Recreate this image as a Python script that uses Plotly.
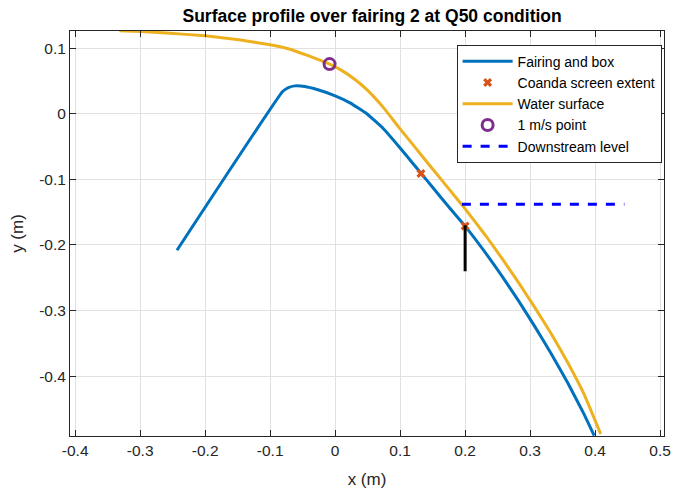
import plotly.graph_objects as go

# Fairing and box outline (m)
fairing_x = [-0.2434, -0.0809, -0.0719, -0.0618, -0.0467, -0.0266, 0.0, 0.0236, 0.0487,
             0.0739, 0.099, 0.119, 0.132, 0.149, 0.174, 0.2, 0.2314, 0.2567, 0.282,
             0.3073, 0.3327, 0.358, 0.3833, 0.3985]
fairing_y = [-0.208, 0.0338, 0.0399, 0.0424, 0.0414, 0.0364, 0.0273, 0.0162, 0.0,
             -0.0225, -0.051, -0.075, -0.0906, -0.111, -0.141, -0.1712, -0.212, -0.2474, -0.2848,
             -0.3243, -0.366, -0.4103, -0.4584, -0.4903]

# Water surface profile (m)
water_x = [-0.332, -0.3, -0.2595, -0.2, -0.148, -0.1, -0.0669, -0.0415, -0.0216, -0.0086,
           0.01, 0.03, 0.05, 0.075, 0.099, 0.124, 0.149, 0.174, 0.2, 0.2314, 0.2567,
           0.282, 0.3073, 0.3327, 0.358, 0.3833, 0.4086]
water_y = [0.1264, 0.1253, 0.1228, 0.1188, 0.1127, 0.1051, 0.0975, 0.0884, 0.0808, 0.0756,
           0.066, 0.0525, 0.0355, 0.0085, -0.022, -0.0525, -0.083, -0.1133, -0.145, -0.1855, -0.2205,
           -0.257, -0.2955, -0.3355, -0.3795, -0.428, -0.488]

# Coanda screen extent points
coanda_x = [0.132, 0.2]
coanda_y = [-0.091, -0.171]

# 1 m/s velocity point on the water surface
v1_x = [-0.0086]
v1_y = [0.0756]

# Downstream water level
down_x = [0.195, 0.445]
down_y = [-0.138, -0.138]

# Screen end plate
plate_x = [0.2, 0.2]
plate_y = [-0.17, -0.24]

FONT = "Liberation Sans, Arial, Helvetica, sans-serif"
INK = "#262626"

fig = go.Figure()
fig.add_trace(go.Scatter(x=fairing_x, y=fairing_y, mode="lines", name="Fairing and box",
                         line=dict(color="#0072BD", width=3, shape="spline", smoothing=0.3)))
fig.add_trace(go.Scatter(x=coanda_x, y=coanda_y, mode="markers", name="Coanda screen extent",
                         marker=dict(symbol="x", size=8, color="#D95319")))
fig.add_trace(go.Scatter(x=water_x, y=water_y, mode="lines", name="Water surface",
                         line=dict(color="#EDB120", width=3, shape="spline", smoothing=0.3)))
fig.add_trace(go.Scatter(x=v1_x, y=v1_y, mode="markers", name="1 m/s point",
                         marker=dict(symbol="circle-open", size=11, color="#7E2F8E",
                                     line=dict(width=3, color="#7E2F8E"))))
fig.add_trace(go.Scatter(x=down_x, y=down_y, mode="lines", name="Downstream level",
                         line=dict(color="#0000FF", width=3, dash="dash")))
fig.add_trace(go.Scatter(x=plate_x, y=plate_y, mode="lines", showlegend=False,
                         line=dict(color="#000000", width=3)))

axis_common = dict(
    showgrid=True, gridcolor="#e1e1e1", gridwidth=1, zeroline=False,
    showline=True, linecolor=INK, linewidth=1, mirror="ticks",
    ticks="inside", ticklen=6, tickcolor=INK,
    tickfont=dict(family=FONT, size=15.5, color=INK),
)

xticks = [-0.4, -0.3, -0.2, -0.1, 0, 0.1, 0.2, 0.3, 0.4, 0.5]
yticks = [-0.4, -0.3, -0.2, -0.1, 0, 0.1]

fig.update_layout(
    width=679, height=493,
    margin=dict(l=70, r=8, t=31, b=56),
    paper_bgcolor="white", plot_bgcolor="white",
    title=dict(text="<b>Surface profile over fairing 2 at Q50 condition</b>",
               x=0.548, xanchor="center", y=0.9675, yanchor="middle",
               font=dict(family=FONT, size=17.5, color="black")),
    xaxis=dict(range=[-0.408, 0.506], tickvals=xticks, ticktext=[f"{v:g}" for v in xticks],
               title=dict(text="x (m)", standoff=15, font=dict(family=FONT, size=17, color=INK)),
               **axis_common),
    yaxis=dict(range=[-0.491, 0.126], tickvals=yticks, ticktext=[f"{v:g}" for v in yticks],
               title=dict(text="y (m)", standoff=11, font=dict(family=FONT, size=17, color=INK)),
               **axis_common),
    legend=dict(x=0.996, y=0.966, xanchor="right", yanchor="top",
                bgcolor="white", bordercolor=INK, borderwidth=1,
                font=dict(family=FONT, size=14, color="black"),
                tracegroupgap=0, itemwidth=50),
    showlegend=True,
)

fig.write_html("out.html")
